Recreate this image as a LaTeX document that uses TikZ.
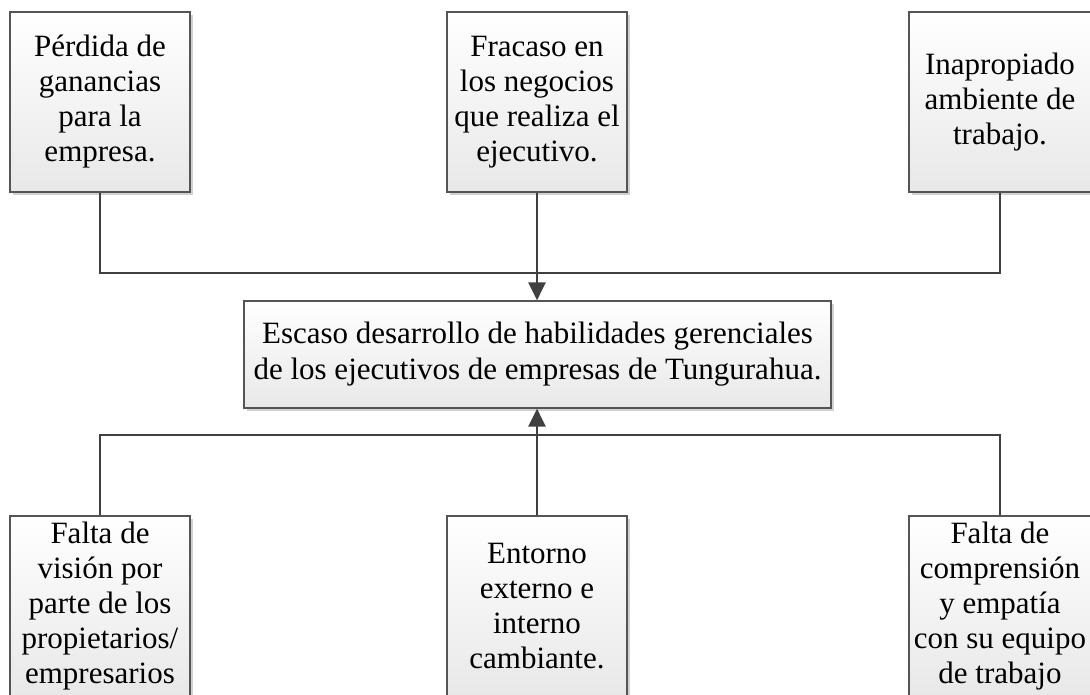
\documentclass[tikz,border=0pt]{standalone}
\usepackage{fontspec}
\setmainfont{Liberation Serif}
\usetikzlibrary{arrows.meta,shadows}
\definecolor{linec}{HTML}{404040}
\definecolor{boxc}{HTML}{555555}
\tikzset{
  cbox/.style={draw=boxc, line width=1.2pt, top color=white, bottom color=black!9,
    general shadow={fill=black!18, shadow xshift=3pt, shadow yshift=-3pt},
    align=center, inner sep=0pt, font=\fontsize{31}{35}\selectfont},
  sqbox/.style={cbox, minimum width=180pt, minimum height=180pt},
  conn/.style={draw=linec, line width=2.8pt},
  arr/.style={conn, -{Triangle[length=18pt,width=17pt]}}
}
\begin{document}
\begin{tikzpicture}[x=1pt,y=-1pt]
\useasboundingbox (0,0) rectangle (1090,695);
\node[sqbox] (tl) at (100,102) {Pérdida de\\ganancias\\para la\\empresa.};
\node[sqbox] (tm) at (537,102) {Fracaso en\\los negocios\\que realiza el\\ejecutivo.};
\node[sqbox, minimum width=182pt] (tr) at (1000,102) {Inapropiado\\ambiente de\\trabajo.};
\node[cbox, minimum width=587pt, minimum height=107pt] (c) at (537.5,354.5)
  {Escaso desarrollo de habilidades gerenciales\\[1pt]de los ejecutivos de empresas de Tungurahua.};
\node[sqbox] (bl) at (100,606) {Falta de\\visión por\\parte de los\\propietarios/\\empresarios};
\node[sqbox] (bm) at (537,606) {Entorno\\externo e\\interno\\cambiante.};
\node[sqbox, minimum width=182pt] (br) at (1000,606) {Falta de\\comprensión\\y empatía\\con su equipo\\de trabajo};
\coordinate (jt) at (537,273);
\coordinate (jb) at (537,435);
\draw[conn] (tl.south) |- (jt) -| (tr.south);
\draw[arr] (tm.south) -- (tm.south |- c.north);
\draw[conn] (bl.north) |- (jb) -| (br.north);
\draw[arr] (bm.north) -- (bm.north |- c.south);
\end{tikzpicture}
\end{document}
